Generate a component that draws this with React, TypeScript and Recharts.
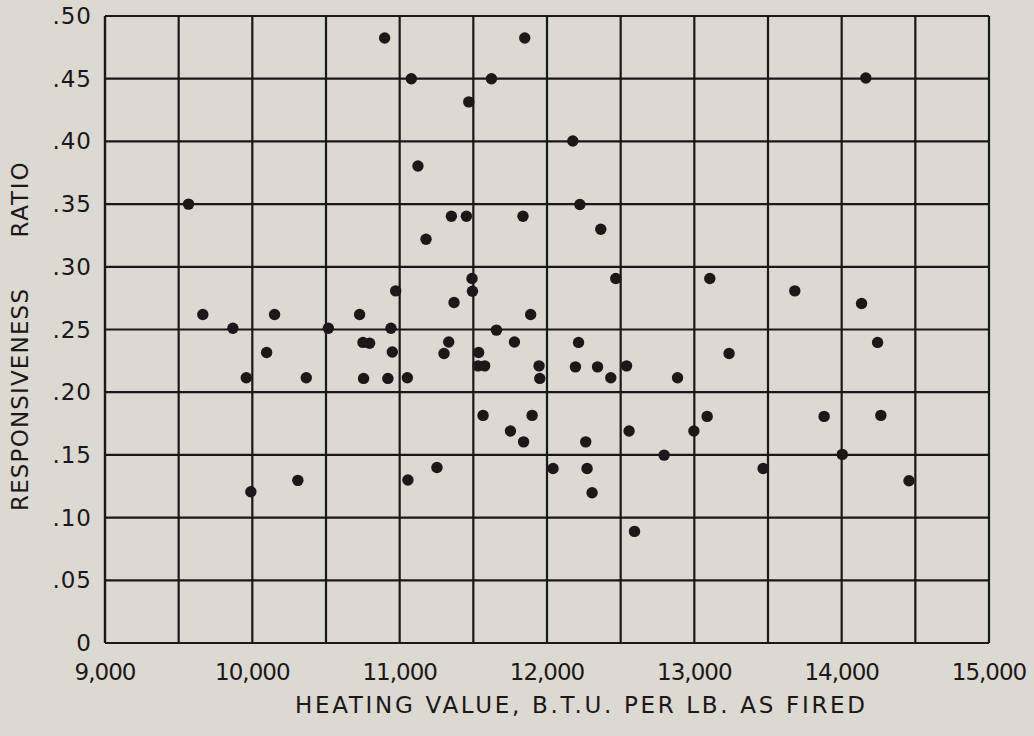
import React from 'react';
import { ScatterChart, Scatter, XAxis, YAxis, CartesianGrid } from 'recharts';

const heatingValues = [
  9567, 9664, 9868, 9959, 9990, 10097, 10151, 10309, 10366, 10516,
  10728, 10751, 10796, 10755, 10898, 10920, 10941, 10950, 10973, 11052,
  11056, 11079, 11124, 11179, 11253, 11301, 11333, 11351, 11369, 11453,
  11469, 11491, 11494, 11532, 11536, 11566, 11577, 11623, 11657, 11752,
  11779, 11837, 11841, 11849, 11889, 11899, 11946, 11951, 12041, 12175,
  12193, 12214, 12223, 12263, 12272, 12306, 12343, 12365, 12433, 12467,
  12540, 12557, 12594, 12795, 12886, 12997, 13087, 13105, 13236, 13467,
  13682, 13881, 14004, 14135, 14164, 14244, 14266, 14457,
];

const responsivenessRatios = [
  0.350, 0.262, 0.251, 0.2115, 0.1206, 0.2317, 0.262, 0.1297, 0.2115, 0.251,
  0.262, 0.2397, 0.239, 0.211, 0.4825, 0.211, 0.251, 0.232, 0.2808, 0.2115,
  0.130, 0.450, 0.3804, 0.322, 0.140, 0.2309, 0.240, 0.3403, 0.2715, 0.3403,
  0.4315, 0.2907, 0.2805, 0.221, 0.2317, 0.1815, 0.221, 0.450, 0.2495, 0.169,
  0.240, 0.3403, 0.1604, 0.4825, 0.262, 0.1815, 0.221, 0.211, 0.1392, 0.4003,
  0.2202, 0.2397, 0.3497, 0.1604, 0.1392, 0.1198, 0.2202, 0.330, 0.2115, 0.2907,
  0.221, 0.169, 0.089, 0.1498, 0.2115, 0.169, 0.1807, 0.2907, 0.2309, 0.1392,
  0.2808, 0.1807, 0.1504, 0.2707, 0.4506, 0.2397, 0.1815, 0.1294,
];

const xTicks = [9000, 9500, 10000, 10500, 11000, 11500, 12000, 12500, 13000, 13500, 14000, 14500, 15000];
const xTickLabels: Record<number, string> = {
  9000: '9,000', 10000: '10,000', 11000: '11,000', 12000: '12,000',
  13000: '13,000', 14000: '14,000', 15000: '15,000',
};
const yTicks = [0, 0.05, 0.1, 0.15, 0.2, 0.25, 0.3, 0.35, 0.4, 0.45, 0.5];
const yTickLabels = ['0', '.05', '.10', '.15', '.20', '.25', '.30', '.35', '.40', '.45', '.50'];

const xTitle = 'HEATING VALUE, B.T.U. PER LB. AS FIRED';
const yTitleWords = ['RESPONSIVENESS', 'RATIO'];

const data = heatingValues.map((x, i) => ({ x, y: responsivenessRatios[i] }));

const BG = '#dbd9d2';
const INK = '#1c1718';
const FONT = '"DejaVu Sans", sans-serif';

const XTick = (props: any) => {
  const { x, y, payload } = props;
  const label = xTickLabels[payload.value];
  if (!label) return null;
  return (
    <text x={x} y={y + 29} textAnchor="middle" dominantBaseline="central"
      fontFamily={FONT} fontSize={23} fill={INK} letterSpacing={-1}>
      {label}
    </text>
  );
};

const YTick = (props: any) => {
  const { x, y, payload } = props;
  const idx = yTicks.findIndex((t) => Math.abs(t - payload.value) < 1e-9);
  return (
    <text x={x - 13} y={y} textAnchor="end" dominantBaseline="central"
      fontFamily={FONT} fontSize={23} fill={INK} letterSpacing={1}>
      {yTickLabels[idx]}
    </text>
  );
};

const XTitle = (props: any) => {
  const { viewBox } = props;
  const cx = viewBox.x + viewBox.width / 2 + 33;
  return (
    <text x={cx} y={705} textAnchor="middle" dominantBaseline="central"
      fontFamily={FONT} fontSize={23} fill={INK} textLength={570} lengthAdjust="spacing">
      {xTitle}
    </text>
  );
};

const YTitle = () => {
  return (
    <g>
      <text x={20} y={400} transform="rotate(-90 20 400)" textAnchor="middle" dominantBaseline="central"
        fontFamily={FONT} fontSize={23} fill={INK} textLength={222} lengthAdjust="spacing">
        {yTitleWords[0]}
      </text>
      <text x={20} y={200} transform="rotate(-90 20 200)" textAnchor="middle" dominantBaseline="central"
        fontFamily={FONT} fontSize={23} fill={INK} textLength={75} lengthAdjust="spacing">
        {yTitleWords[1]}
      </text>
    </g>
  );
};

const Dot = (props: any) => {
  const { cx, cy } = props;
  if (cx == null || cy == null) return null;
  return <circle cx={cx} cy={cy} r={5.7} fill={INK} />;
};

export default function App() {
  return (
    <div style={{ position: 'absolute', left: 0, top: 0, width: 1034, height: 736, background: BG }}>
      <ScatterChart width={1034} height={736} margin={{ top: 16, right: 45, bottom: 0, left: 0 }}>
        <CartesianGrid stroke={INK} strokeWidth={2.2} strokeOpacity={1} />
        <XAxis type="number" dataKey="x" domain={[9000, 15000]} ticks={xTicks} interval={0}
          tick={<XTick />} tickLine={false} tickSize={0} tickMargin={0} height={93}
          axisLine={{ stroke: INK, strokeWidth: 2.2 }} label={<XTitle />} allowDataOverflow />
        <YAxis type="number" dataKey="y" domain={[0, 0.5]} ticks={yTicks} interval={0}
          tick={<YTick />} tickLine={false} tickSize={0} tickMargin={0} width={105}
          axisLine={{ stroke: INK, strokeWidth: 2.2 }} label={<YTitle />} allowDataOverflow />
        <Scatter data={data} shape={<Dot />} isAnimationActive={false} />
      </ScatterChart>
    </div>
  );
}
